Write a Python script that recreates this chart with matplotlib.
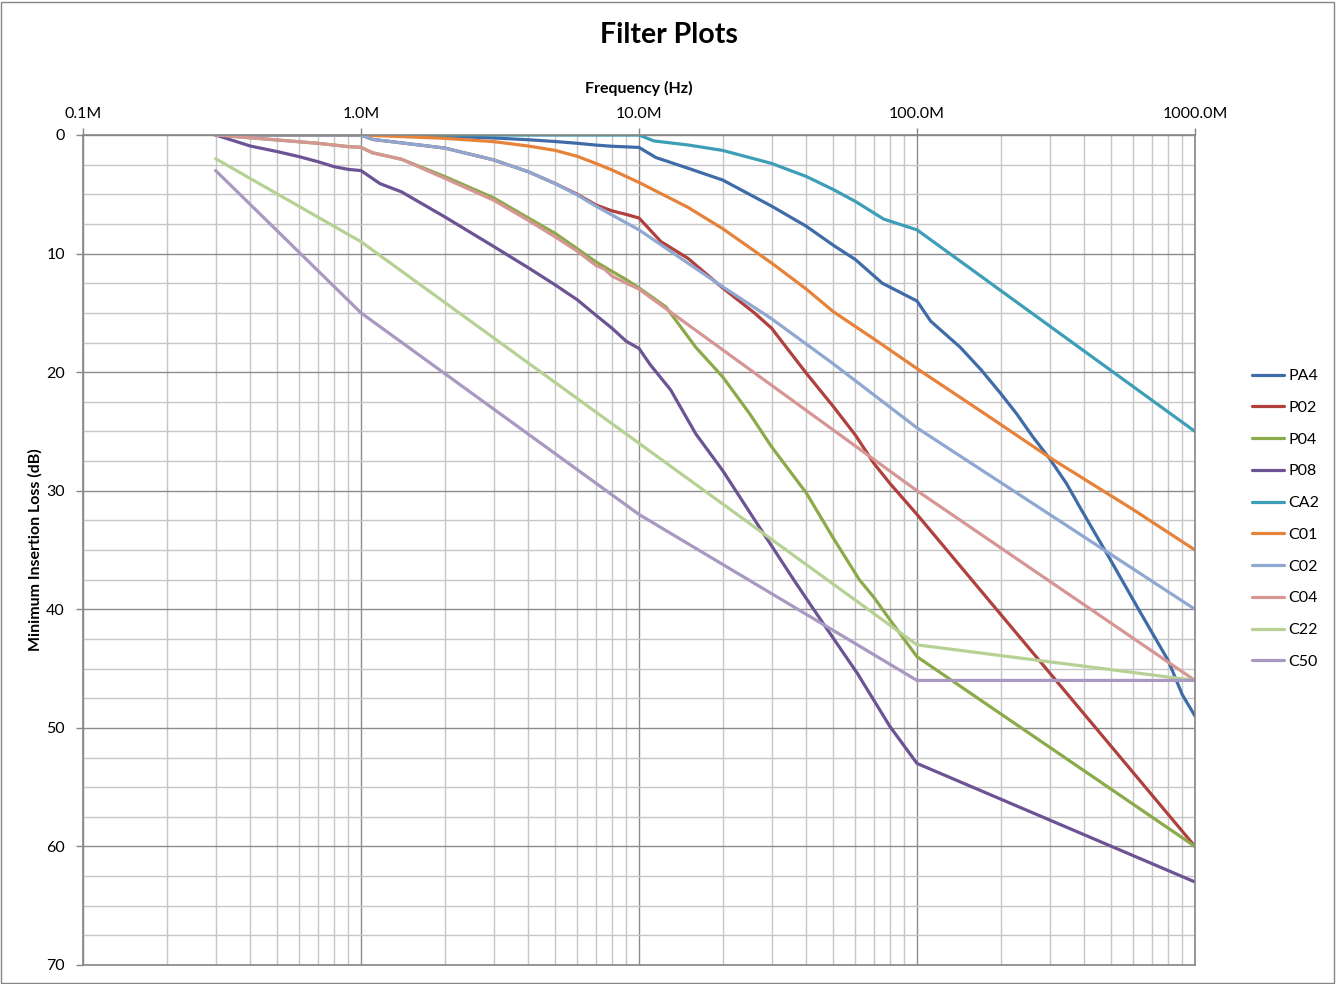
import matplotlib
matplotlib.use('Agg')
import matplotlib.pyplot as plt
from matplotlib.ticker import FixedLocator, FixedFormatter, LogLocator, MultipleLocator, NullFormatter
from matplotlib.patches import Rectangle

plt.rcParams['font.family'] = ['Lato', 'DejaVu Sans']

# frequencies in MHz, loss in dB
pa4_f = [0.3, 1, 2, 3, 4, 5, 6, 7, 8, 10, 11.5, 15, 20, 30, 40, 50, 60, 75, 100, 112, 143, 170, 200, 228, 260, 300, 345, 390, 490, 630, 800, 900, 1000]
pa4_v = [0, 0, 0.1, 0.25, 0.4, 0.55, 0.7, 0.85, 0.95, 1.05, 1.9, 2.8, 3.8, 6.0, 7.7, 9.3, 10.5, 12.5, 14.0, 15.7, 17.9, 19.8, 21.8, 23.5, 25.4, 27.3, 29.4, 31.6, 35.6, 40.1, 44.3, 47.2, 49.0]

p02_f = [0.3, 1, 1.1, 2, 3, 4, 5, 6, 7, 8, 9, 10, 12, 15, 20, 26, 30, 40, 50, 60, 70, 80, 100, 1000]
p02_v = [0, 0, 0.37, 1.1, 2.1, 3.1, 4.1, 5.0, 5.9, 6.4, 6.7, 7.0, 9.0, 10.4, 12.9, 15.0, 16.3, 20.1, 22.9, 25.3, 27.7, 29.4, 32.0, 60.0]

p04_f = [0.3, 0.5, 0.7, 0.9, 1, 1.1, 1.4, 2, 3, 4, 5, 6, 7, 8, 9, 10, 12.5, 16, 20, 25, 30, 40, 50, 62, 70, 80, 100, 1000]
p04_v = [0, 0.42, 0.7, 0.98, 1.04, 1.5, 2.05, 3.5, 5.3, 7.0, 8.3, 9.6, 10.7, 11.5, 12.2, 12.9, 14.5, 17.9, 20.4, 23.5, 26.3, 30.2, 34.0, 37.5, 39.0, 40.9, 44.0, 60.0]

p08_f = [0.3, 0.4, 0.5, 0.6, 0.7, 0.8, 0.9, 1, 1.17, 1.4, 2, 3, 4, 5, 6, 7, 8, 9, 10, 11, 13, 16, 20, 27.5, 36, 40, 46, 61, 80, 100, 1000]
p08_v = [0, 0.93, 1.4, 1.83, 2.25, 2.67, 2.9, 3.0, 4.1, 4.8, 6.9, 9.4, 11.2, 12.65, 13.9, 15.2, 16.3, 17.4, 18.0, 19.4, 21.5, 25.2, 28.3, 33.3, 37.5, 39.1, 41.2, 45.4, 49.9, 53.0, 63.0]

ca2_f = [0.3, 10, 11.3, 15, 20, 30, 40, 50, 60, 76, 100, 1000]
ca2_v = [0, 0, 0.5, 0.84, 1.3, 2.4, 3.5, 4.6, 5.6, 7.1, 8.0, 25.0]

c01_f = [0.3, 1, 2, 3, 4, 5, 6, 7, 8, 10, 15, 20, 30, 40, 50, 70, 100, 170, 300, 600, 1000]
c01_v = [0, 0, 0.28, 0.56, 0.93, 1.3, 1.8, 2.4, 2.95, 4.0, 6.1, 7.9, 10.8, 13.0, 14.9, 17.2, 19.7, 23.3, 27.2, 31.6, 35.0]

c02_f = [0.3, 1, 1.1, 2, 3, 4, 5, 6, 7, 8, 10, 20, 30, 50, 100, 1000]
c02_v = [0, 0, 0.37, 1.1, 2.1, 3.1, 4.1, 5.06, 6.0, 6.75, 8.0, 12.8, 15.5, 19.3, 24.7, 40.0]

c04_f = [0.3, 0.5, 0.7, 0.9, 1, 1.1, 1.4, 2, 3, 4, 5, 6, 7, 7.5, 8, 9, 10, 100, 1000]
c04_v = [0, 0.42, 0.7, 0.98, 1.04, 1.5, 2.05, 3.65, 5.5, 7.2, 8.6, 9.8, 11.0, 11.3, 11.9, 12.5, 13.0, 30.0, 46.0]

c22_f = [0.3, 1, 10, 100, 1000]
c22_v = [2, 9, 26, 43, 46]

c50_f = [0.3, 1, 10, 100, 1000]
c50_v = [3, 15, 32, 46, 46]

names = ['PA4', 'P02', 'P04', 'P08', 'CA2', 'C01', 'C02', 'C04', 'C22', 'C50']
freqs = [pa4_f, p02_f, p04_f, p08_f, ca2_f, c01_f, c02_f, c04_f, c22_f, c50_f]
vals = [pa4_v, p02_v, p04_v, p08_v, ca2_v, c01_v, c02_v, c04_v, c22_v, c50_v]
colors = ['#3F6CA8', '#B0403D', '#8BAA4A', '#6C5394', '#3D9EB8', '#E6823A',
          '#8FA8D2', '#D59694', '#B7D195', '#A898C2']

x_ticks = [0.1, 1, 10, 100, 1000]
x_labels = ['0.1M', '1.0M', '10.0M', '100.0M', '1000.0M']

fig = plt.figure(figsize=(13.37, 9.84), dpi=100)
ax = fig.add_axes([83 / 1337, 1 - 965 / 984, (1195 - 83) / 1337, (965 - 135) / 984])

for name, f, v, c in zip(names, freqs, vals, colors):
    ax.plot(f, v, color=c, lw=2.3, label=name, solid_joinstyle='round', solid_capstyle='round')

ax.set_xscale('log')
ax.set_xlim(0.1, 1000)
ax.set_ylim(70, 0)

ax.xaxis.set_major_locator(FixedLocator(x_ticks))
ax.xaxis.set_major_formatter(FixedFormatter(x_labels))
ax.xaxis.set_minor_locator(LogLocator(base=10, subs=range(2, 10)))
ax.xaxis.set_minor_formatter(NullFormatter())
ax.yaxis.set_major_locator(MultipleLocator(10))
ax.yaxis.set_minor_locator(MultipleLocator(2.5))

ax.xaxis.tick_top()
ax.xaxis.set_label_position('top')
ax.tick_params(axis='both', which='major', labelsize=11.5, length=5, color='#868686', width=1)
ax.tick_params(axis='both', which='minor', length=0)
ax.tick_params(axis='x', which='major', pad=5)
ax.tick_params(axis='y', which='major', pad=8)

ax.grid(which='major', color='#8C8C8C', lw=1)
ax.grid(which='minor', color='#C6C6C6', lw=1)
ax.set_axisbelow(True)
for s in ax.spines.values():
    s.set_color('#868686')
    s.set_linewidth(1.2)

ax.set_xlabel('Frequency (Hz)', fontsize=11.5, fontweight='bold', labelpad=10)
fig.text(35 / 1337, 1 - 550 / 984, 'Minimum Insertion Loss (dB)', rotation=90,
         fontsize=11.5, fontweight='bold', ha='center', va='center')
fig.text(669 / 1337, 1 - 35 / 984, 'Filter Plots', fontsize=20.5, fontweight='bold',
         ha='center', va='center')

ax.legend(loc='center left', bbox_to_anchor=(1238 / 1337, 1 - 519 / 984),
          bbox_transform=fig.transFigure, frameon=False, fontsize=11.5,
          handlelength=1.95, handletextpad=0.3, labelspacing=1.1)

fig.patches.append(Rectangle((0.001, 0.001), 0.997, 0.997, transform=fig.transFigure,
                             fill=False, edgecolor='#868686', lw=1))

fig.savefig('out.png', dpi=100)
